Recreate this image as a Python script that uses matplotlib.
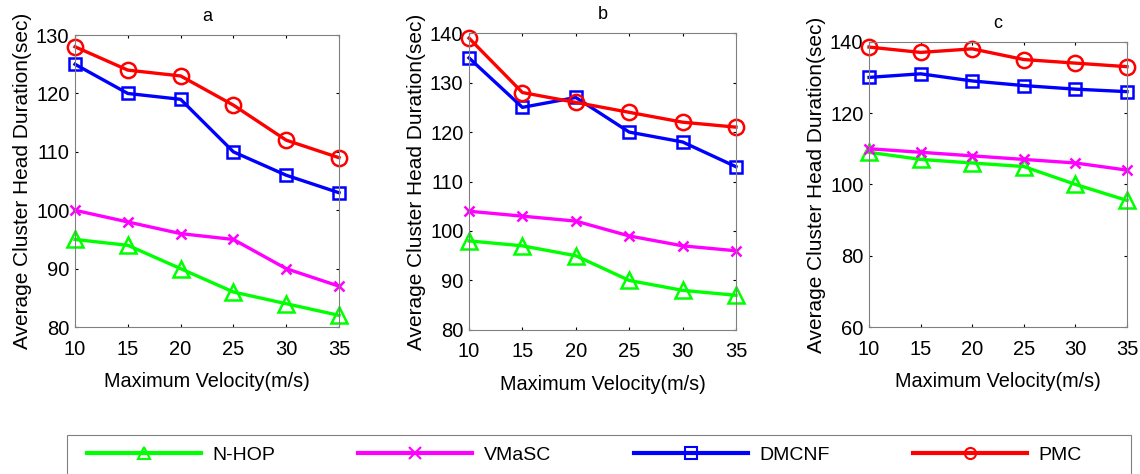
import matplotlib
matplotlib.use('Agg')
import matplotlib.pyplot as plt
from matplotlib.patches import Rectangle

plt.rcParams['font.family'] = ['Liberation Sans', 'DejaVu Sans']

# Maximum node velocity (m/s)
velocity = [10, 15, 20, 25, 30, 35]

# Average cluster head duration (sec), scenario a
nhop_a = [95, 94, 90, 86, 84, 82]
vmasc_a = [100, 98, 96, 95, 90, 87]
dmcnf_a = [125, 120, 119, 110, 106, 103]
pmc_a = [128, 124, 123, 118, 112, 109]

# scenario b
nhop_b = [98, 97, 95, 90, 88, 87]
vmasc_b = [104, 103, 102, 99, 97, 96]
dmcnf_b = [135, 125, 127, 120, 118, 113]
pmc_b = [139, 128, 126, 124, 122, 121]

# scenario c
nhop_c = [109, 107, 106, 105, 100, 95.5]
vmasc_c = [110, 109, 108, 107, 106, 104]
dmcnf_c = [130, 131, 129, 127.7, 126.7, 126]
pmc_c = [138.5, 137, 138, 135, 134, 133]

names = ['N-HOP', 'VMaSC', 'DMCNF', 'PMC']
colors = ['#00ff00', '#ff00ff', '#0000ff', '#ff0000']
markers = ['^', 'x', 's', 'o']
msizes = [11, 7, 9, 11]

panels = [
    ('a', [nhop_a, vmasc_a, dmcnf_a, pmc_a], (80, 130), [80, 90, 100, 110, 120, 130]),
    ('b', [nhop_b, vmasc_b, dmcnf_b, pmc_b], (80, 140), [80, 90, 100, 110, 120, 130, 140]),
    ('c', [nhop_c, vmasc_c, dmcnf_c, pmc_c], (60, 140), [60, 80, 100, 120, 140]),
]
boxes = [
    [0.0658, 0.310, 0.2316, 0.616],
    [0.4114, 0.304, 0.2342, 0.626],
    [0.7623, 0.310, 0.2263, 0.602],
]

fig = plt.figure(figsize=(11.4, 4.74), dpi=100)

for (title, series, ylim, yticks), box in zip(panels, boxes):
    ax = fig.add_axes(box)
    for vals, c, m, ms in zip(series, colors, markers, msizes):
        ax.plot(velocity, vals, color=c, marker=m, markersize=ms,
                markerfacecolor='none', markeredgecolor=c,
                markeredgewidth=1.8, linewidth=2.4, clip_on=False)
    ax.set_xlim(10, 35)
    ax.set_ylim(*ylim)
    ax.set_xticks(velocity)
    ax.set_yticks(yticks)
    ax.tick_params(direction='in', length=2, width=0.8, labelsize=14.5,
                   top=True, right=True)
    ax.tick_params(axis='x', pad=9)
    ax.tick_params(axis='y', pad=4)
    for s in ax.spines.values():
        s.set_color('#808080')
        s.set_linewidth(0.8)
    ax.set_title(title, fontsize=13, pad=10)
    ax.set_xlabel('Maximum Velocity(m/s)', fontsize=14.3, labelpad=10)
    ax.set_ylabel('Average Cluster Head Duration(sec)', fontsize=15, labelpad=3)

# legend box along the bottom edge
fig.patches.append(Rectangle((67 / 1140, -0.05), (1131 - 67) / 1140, 0.05 + 39 / 474,
                             transform=fig.transFigure, fill=False,
                             edgecolor='#808080', linewidth=0.8))

leg_handles = []
for c, m in zip(colors, markers):
    h, = plt.plot([], [], color=c, marker=m, markersize=8, markerfacecolor='none',
                  markeredgecolor=c, markeredgewidth=1.5, linewidth=3)
    leg_handles.append(h)

fig.legend(leg_handles, names, loc='center left', ncol=4, mode='expand',
           bbox_to_anchor=(87 / 1140, 1 - 455 / 474, (1082 - 87) / 1140, 0.0),
           fontsize=14, handlelength=5.86, handletextpad=0.6,
           frameon=False, borderaxespad=0.0, borderpad=0.0)

fig.savefig('out.png', dpi=100)
